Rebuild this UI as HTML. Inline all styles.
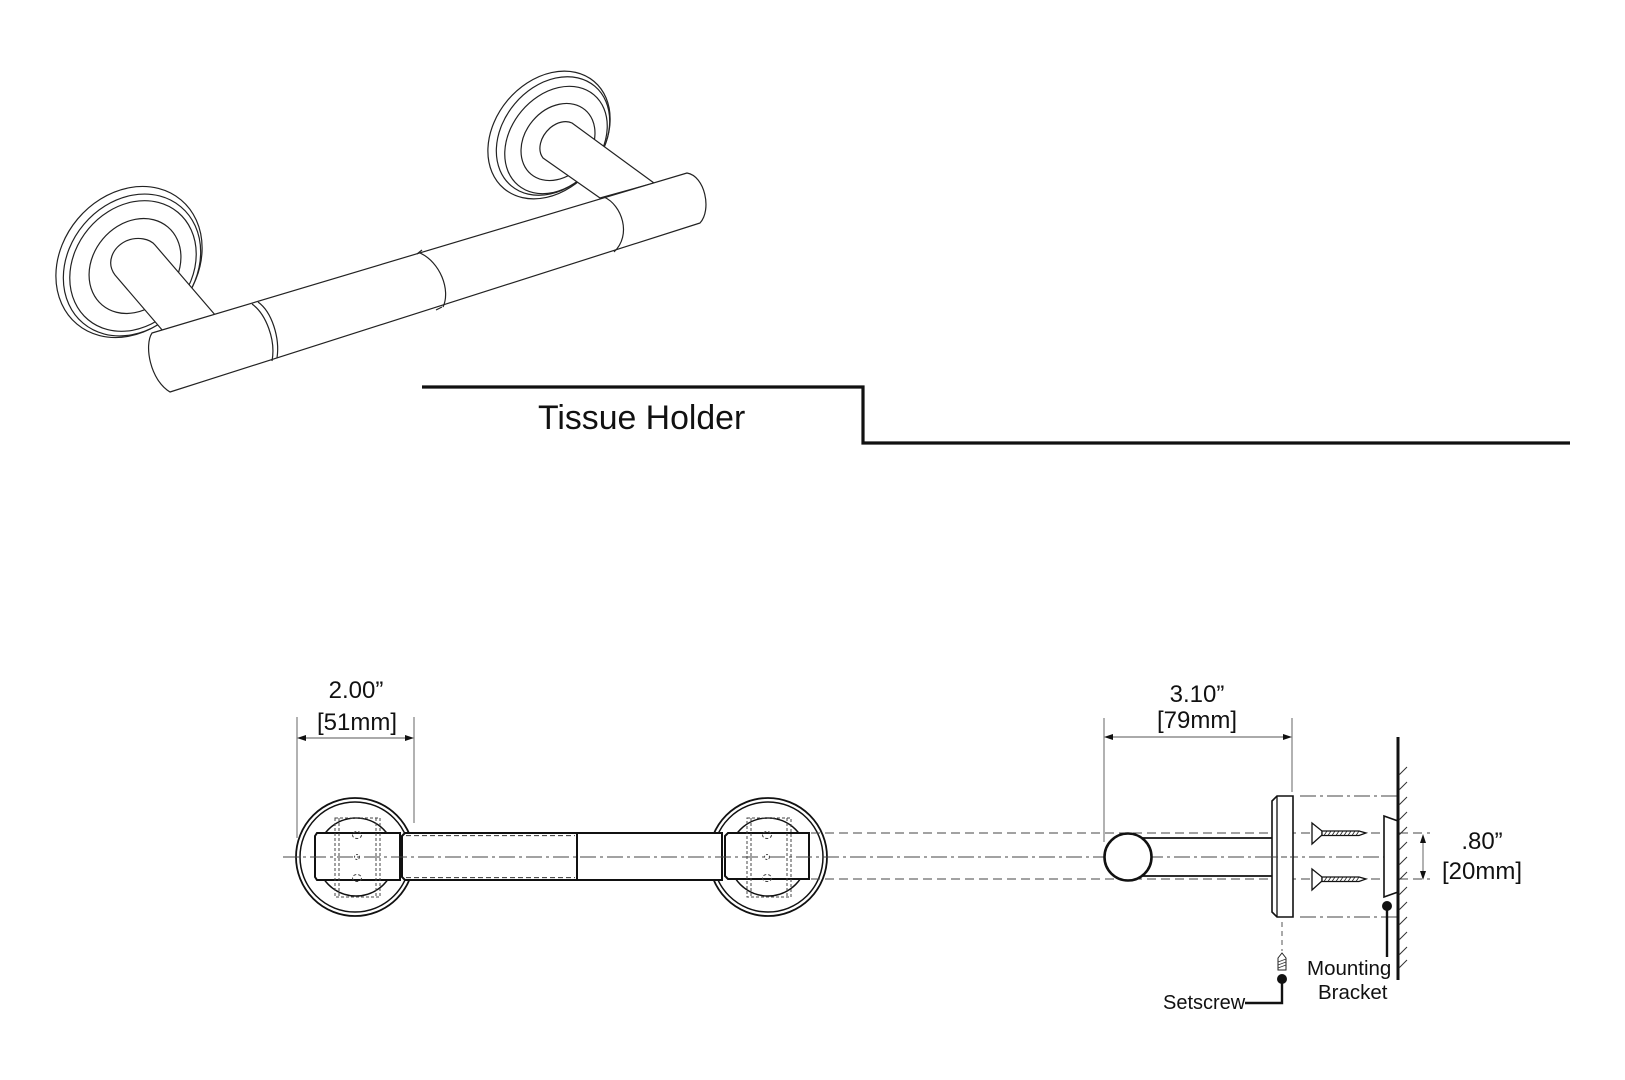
<!DOCTYPE html>
<html>
<head>
<meta charset="utf-8">
<style>
  html,body{margin:0;padding:0;background:#fff;}
  svg{display:block;}
  text{font-family:"Liberation Sans", Arial, sans-serif; fill:#111;}
</style>
</head>
<body>
<svg width="1625" height="1080" viewBox="0 0 1625 1080" xmlns="http://www.w3.org/2000/svg">
  <rect x="0" y="0" width="1625" height="1080" fill="#fff"/>

  <!-- ================= ISOMETRIC VIEW ================= -->
  <g stroke="#222" stroke-width="1.2" fill="#fff" stroke-linejoin="round">
    <!-- left rosette -->
    <ellipse cx="129" cy="262" rx="81" ry="67" transform="rotate(-50 129 262)"/>
    <ellipse cx="132" cy="265" rx="76" ry="63" transform="rotate(-50 132 265)"/>
    <ellipse cx="133" cy="266" rx="70" ry="58" transform="rotate(-50 133 266)"/>
    <ellipse cx="135" cy="266" rx="51" ry="42" transform="rotate(-50 135 266)"/>
    <!-- left post -->
    <path d="M163,331 L115,275 C106,263 112,248 126,241 C138,236 150,239 155,245 L216,316 Z"/>

    <!-- right rosette -->
    <ellipse cx="549" cy="135" rx="70" ry="54" transform="rotate(-50 549 135)"/>
    <ellipse cx="553" cy="136" rx="65" ry="50" transform="rotate(-50 553 136)"/>
    <ellipse cx="556" cy="140" rx="59" ry="45" transform="rotate(-50 556 140)"/>
    <ellipse cx="558" cy="142" rx="42" ry="33" transform="rotate(-50 558 142)"/>
    <!-- right post -->
    <path d="M600,198 L543,158 C537,150 540,137 550,128 C557,122 566,120 572,123 L654,183 Z"/>

    <!-- bar -->
    <path d="M152,333 L687,173 C705,176 712,210 700,223 L170,392 C150,380 144,345 152,333 Z"/>
    <!-- joints -->
    <path d="M252,304 C266,314 276,340 272,361" fill="none"/>
    <path d="M258,302 C272,312 280,338 277,358" fill="none"/>
    <path d="M420,253 C440,262 451,290 443,307" fill="none"/>
    <path d="M417,254 L422,250" fill="none"/>
    <path d="M436,310 L442,307" fill="none"/>
    <path d="M604,197 C622,205 632,235 614,252" fill="none"/>
  </g>

  <!-- ================= TITLE & STEP LINE ================= -->
  <polyline points="422,387 863,387 863,443 1570,443" fill="none" stroke="#111" stroke-width="3.2"/>
  <text x="538" y="429" font-size="33.8">Tissue Holder</text>

  <!-- ================= FRONT VIEW ================= -->
  <!-- dimension 2.00 -->
  <g stroke="#555" stroke-width="0.9">
    <line x1="297" y1="717" x2="297" y2="838"/>
    <line x1="414" y1="717" x2="414" y2="823"/>
    <line x1="300" y1="738" x2="411" y2="738"/>
  </g>
  <polygon points="297,738 306,735 306,741" fill="#111"/>
  <polygon points="414,738 405,735 405,741" fill="#111"/>
  <text x="356" y="698" font-size="24" text-anchor="middle">2.00”</text>
  <text x="357" y="730" font-size="24" text-anchor="middle">[51mm]</text>

  <!-- left rosette -->
  <g stroke="#111" fill="none">
    <circle cx="355" cy="857" r="59" stroke-width="1.8"/>
    <circle cx="355" cy="857" r="55" stroke-width="1.5"/>
    <circle cx="356" cy="857" r="39" stroke-width="1.5"/>
  </g>
  <!-- right rosette -->
  <g stroke="#111" fill="none">
    <circle cx="768" cy="857" r="59" stroke-width="1.8"/>
    <circle cx="768" cy="857" r="55" stroke-width="1.5"/>
    <circle cx="768" cy="857" r="39" stroke-width="1.5"/>
  </g>

  <!-- blocks and bar -->
  <g stroke="#111" stroke-width="2" fill="#fff">
    <path d="M317,833 L400,833 L400,880 L317,880 L315,877 L315,836 Z"/>
    <path d="M402,836 L405,833 L577,833 L577,880 L405,880 L402,877 Z"/>
    <path d="M577,833 L722,833 L722,880 L577,880 Z"/>
    <path d="M725,836 L728,833 L809,833 L809,879 L728,879 L725,876 Z"/>
  </g>
  <!-- dashed overlay on left bar segment -->
  <g stroke="#333" stroke-width="1" stroke-dasharray="5 3" fill="none">
    <line x1="406" y1="835.6" x2="575" y2="835.6"/>
    <line x1="406" y1="877.6" x2="575" y2="877.6"/>
  </g>

  <!-- hidden bracket lines -->
  <g stroke="#444" stroke-width="1" stroke-dasharray="3 2" fill="none">
    <rect x="335" y="818" width="45" height="79"/>
    <line x1="339" y1="818" x2="339" y2="897"/>
    <line x1="376" y1="818" x2="376" y2="897"/>
    <ellipse cx="357" cy="835" rx="4.5" ry="3.5"/>
    <ellipse cx="357" cy="878" rx="4.5" ry="3.5"/>
    <circle cx="357" cy="857" r="2.5" stroke-dasharray="2 1.5"/>

    <rect x="747" y="818" width="44" height="79"/>
    <line x1="751" y1="818" x2="751" y2="897"/>
    <line x1="787" y1="818" x2="787" y2="897"/>
    <ellipse cx="767" cy="835" rx="4.5" ry="3.5"/>
    <ellipse cx="767" cy="878" rx="4.5" ry="3.5"/>
    <circle cx="767" cy="857" r="2.5" stroke-dasharray="2 1.5"/>
  </g>

  <!-- long dashed lines -->
  <g stroke="#444" stroke-width="1" fill="none">
    <line x1="283" y1="857" x2="1384" y2="857" stroke-dasharray="16 4 3 4"/>
    <line x1="811" y1="833" x2="1430" y2="833" stroke-dasharray="9 5"/>
    <line x1="811" y1="879" x2="1430" y2="879" stroke-dasharray="9 5"/>
    <line x1="1300" y1="796" x2="1398" y2="796" stroke-dasharray="16 4 3 4"/>
    <line x1="1300" y1="917" x2="1398" y2="917" stroke-dasharray="16 4 3 4"/>
  </g>

  <!-- ================= SIDE VIEW ================= -->
  <!-- dimension 3.10 -->
  <g stroke="#555" stroke-width="0.9">
    <line x1="1104" y1="718" x2="1104" y2="842"/>
    <line x1="1292" y1="718" x2="1292" y2="792"/>
    <line x1="1107" y1="737" x2="1289" y2="737"/>
  </g>
  <polygon points="1104,737 1113,734 1113,740" fill="#111"/>
  <polygon points="1292,737 1283,734 1283,740" fill="#111"/>
  <text x="1197" y="702" font-size="24" text-anchor="middle">3.10”</text>
  <text x="1197" y="728" font-size="24" text-anchor="middle">[79mm]</text>

  <!-- post -->
  <g stroke="#111" stroke-width="1.8">
    <line x1="1130" y1="838" x2="1272" y2="838"/>
    <line x1="1130" y1="876" x2="1272" y2="876"/>
  </g>
  <circle cx="1128" cy="857" r="23.5" fill="#fff" stroke="#111" stroke-width="2.6"/>

  <!-- flange -->
  <path d="M1277,796 L1293,796 L1293,917 L1277,917 L1272,912 L1272,801 Z" fill="#fff" stroke="#111" stroke-width="1.6"/>
  <line x1="1277" y1="796" x2="1277" y2="917" stroke="#111" stroke-width="1.3"/>
  <line x1="1272" y1="857" x2="1293" y2="857" stroke="#444" stroke-width="1" stroke-dasharray="6 3"/>

  <!-- screws -->
  <g stroke="#111" stroke-width="1.3" fill="#fff">
    <path d="M1312,823 L1322,831 L1322,835 L1312,844 Z"/>
    <path d="M1322,831 L1359,831 L1366,833 L1359,835.5 L1322,835.5 Z"/>
    <path d="M1312,869 L1322,877 L1322,881 L1312,890 Z"/>
    <path d="M1322,877 L1359,877 L1366,879 L1359,881.5 L1322,881.5 Z"/>
  </g>
  <g stroke="#222" stroke-width="0.8">
    <path d="M1324,835.5 L1327,831 M1328,835.5 L1331,831 M1332,835.5 L1335,831 M1336,835.5 L1339,831 M1340,835.5 L1343,831 M1344,835.5 L1347,831 M1348,835.5 L1351,831 M1352,835.5 L1355,831 M1356,835.5 L1359,831"/>
    <path d="M1324,881.5 L1327,877 M1328,881.5 L1331,877 M1332,881.5 L1335,877 M1336,881.5 L1339,877 M1340,881.5 L1343,877 M1344,881.5 L1347,877 M1348,881.5 L1351,877 M1352,881.5 L1355,877 M1356,881.5 L1359,877"/>
  </g>

  <!-- mounting bracket -->
  <polygon points="1384,816 1398,821 1398,892 1384,897" fill="#fff" stroke="#111" stroke-width="1.6"/>

  <!-- wall -->
  <line x1="1398" y1="737" x2="1398" y2="980" stroke="#111" stroke-width="3"/>
  <g stroke="#333" stroke-width="1">
    <path d="M1399,775 L1407,767 M1399,790 L1407,782 M1399,805 L1407,797 M1399,820 L1407,812 M1399,835 L1407,827 M1399,850 L1407,842 M1399,865 L1407,857 M1399,880 L1407,872 M1399,895 L1407,887 M1399,910 L1407,902 M1399,925 L1407,917 M1399,940 L1407,932 M1399,955 L1407,947 M1399,968 L1407,960"/>
  </g>

  <!-- .80 dimension -->
  <line x1="1423" y1="838" x2="1423" y2="876" stroke="#555" stroke-width="0.9"/>
  <polygon points="1423,834 1420,843 1426,843" fill="#111"/>
  <polygon points="1423,880 1420,871 1426,871" fill="#111"/>
  <text x="1482" y="849" font-size="24" text-anchor="middle">.80”</text>
  <text x="1482" y="879" font-size="24" text-anchor="middle">[20mm]</text>

  <!-- setscrew -->
  <line x1="1282" y1="922" x2="1282" y2="951" stroke="#555" stroke-width="1" stroke-dasharray="5 4"/>
  <path d="M1278,958 L1282,953 L1286,958 L1286,970 L1278,970 Z" fill="#fff" stroke="#222" stroke-width="1"/>
  <path d="M1278,962 L1286,959 M1278,965 L1286,962 M1278,968 L1286,965" stroke="#333" stroke-width="0.7"/>
  <circle cx="1282" cy="979" r="5" fill="#111"/>
  <polyline points="1282,979 1282,1003 1245,1003" fill="none" stroke="#111" stroke-width="2.4"/>
  <text x="1163" y="1009" font-size="20">Setscrew</text>

  <!-- mounting bracket label -->
  <circle cx="1387" cy="906" r="5" fill="#111"/>
  <line x1="1387" y1="906" x2="1387" y2="957" stroke="#111" stroke-width="2.4"/>
  <text x="1307" y="975" font-size="20.5">Mounting</text>
  <text x="1318" y="999" font-size="20.5">Bracket</text>
</svg>
</body>
</html>
